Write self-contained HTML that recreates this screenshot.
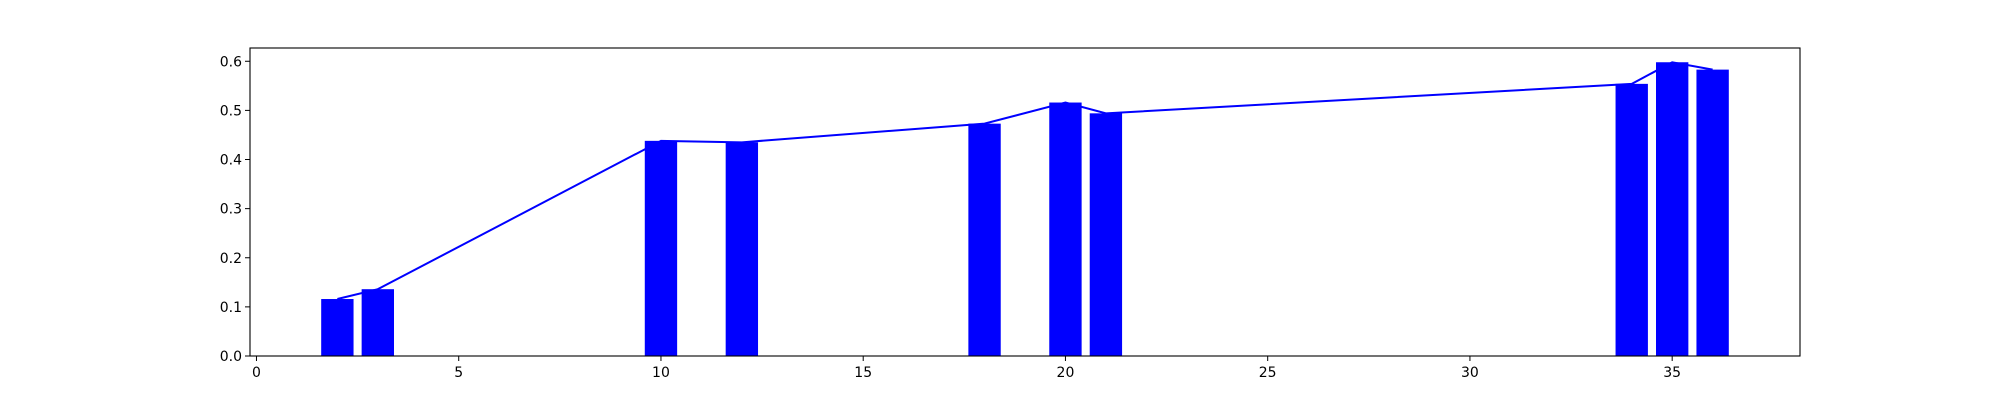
<!DOCTYPE html>
<html><head><meta charset="utf-8"><style>
html,body{margin:0;padding:0;background:#fff;}
svg{display:block;font-family:"DejaVu Sans","Liberation Sans",sans-serif;}
</style></head><body>
<svg id="chart" width="2000" height="400" xmlns="http://www.w3.org/2000/svg">
<g id="plot"></g>
</svg>
<script>
const categories = [2, 3, 10, 12, 18, 20, 21, 34, 35, 36];
const values = [0.116, 0.136, 0.438, 0.435, 0.473, 0.516, 0.494, 0.554, 0.598, 0.583];
const xTicks = [0, 5, 10, 15, 20, 25, 30, 35];
const yTicks = [0.0, 0.1, 0.2, 0.3, 0.4, 0.5, 0.6];

const L = 250, R = 1800, T = 48, B = 356;
const xmin = -0.16, xmax = 38.16, ymin = 0, ymax = 0.627;
const xs = v => L + (v - xmin) / (xmax - xmin) * (R - L);
const ys = v => B - (v - ymin) / (ymax - ymin) * (B - T);
const NS = "http://www.w3.org/2000/svg";
const g = document.getElementById('plot');
function mk(tag, attrs) { const e = document.createElementNS(NS, tag); for (const k in attrs) e.setAttribute(k, attrs[k]); g.appendChild(e); return e; }

categories.forEach((c, i) => {
  const r = mk('rect', {x: xs(c - 0.4), y: ys(values[i]), width: xs(c + 0.4) - xs(c - 0.4), height: ys(0) - ys(values[i]), fill: '#0000ff'});
  
  
});
const pl = mk('polyline', {points: categories.map((c, i) => xs(c) + ',' + ys(values[i])).join(' '), fill: 'none', stroke: '#0000ff', 'stroke-width': 2});



const frame = mk('rect', {x: L, y: T, width: R - L, height: B - T, fill: 'none', stroke: '#000', 'stroke-width': 1.1});



xTicks.forEach(t => {
  const x = xs(t);
  mk('line', {x1: x, x2: x, y1: B, y2: B + 5, stroke: '#000', 'stroke-width': 1});
  const tx = mk('text', {x: x, y: B + 21, 'text-anchor': 'middle', 'font-size': 14});
  tx.textContent = String(t);
  
  
});
yTicks.forEach(t => {
  const y = ys(t);
  mk('line', {x1: L - 5, x2: L, y1: y, y2: y, stroke: '#000', 'stroke-width': 1});
  const tx = mk('text', {x: L - 8, y: y + 5, 'text-anchor': 'end', 'font-size': 14});
  tx.textContent = t.toFixed(1);
  
  
});
</script>
</body></html>
